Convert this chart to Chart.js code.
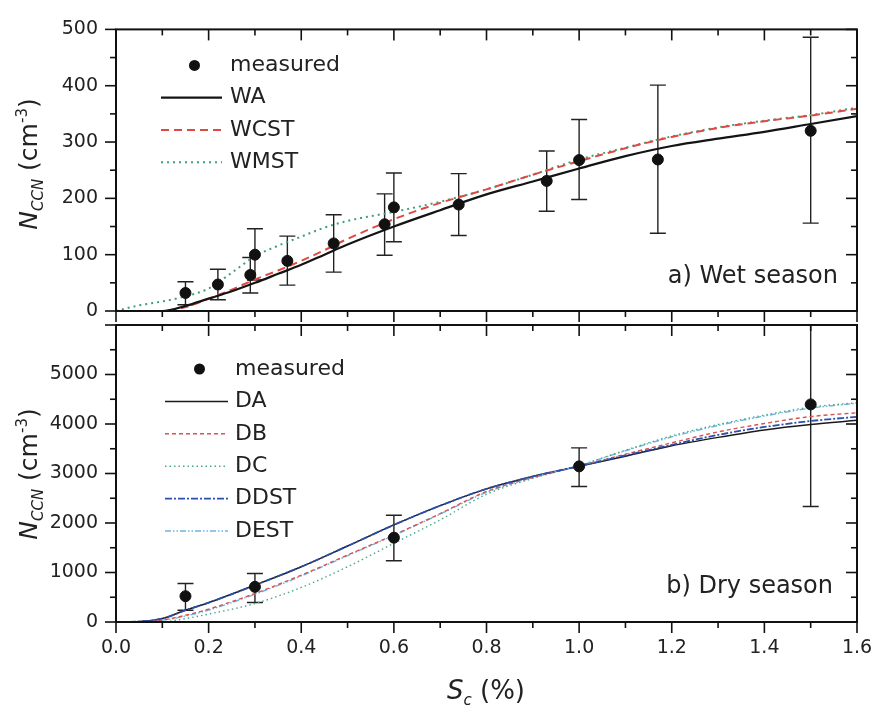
<!DOCTYPE html>
<html lang="en">
<head>
<meta charset="UTF-8" />
<title>CCN spectra</title>
<script src="https://cdn.jsdelivr.net/npm/chart.js@4"></script>
<style>
  body { margin: 0; background: #fff; }
  #wrap {
    position: relative; width: 877px; height: 716px; background: #fff;
    font-family: "DejaVu Sans", sans-serif; color: #222;
  }
  canvas { position: absolute; left: 0; top: 0; }
  .ytitle {
    position: absolute; white-space: nowrap; font-size: 25px;
    transform: translate(-50%, -50%) rotate(-90deg);
  }
  .xtitle {
    position: absolute; white-space: nowrap; font-size: 26px;
    transform: translate(-50%, -50%);
  }
  .ytitle i, .xtitle i { font-style: italic; }
  sub, sup { font-size: 15px; line-height: 0; }
  .panel {
    position: absolute; white-space: nowrap; font-size: 24px;
    transform: translate(-100%, -50%);
  }
</style>
</head>
<body>
<div id="wrap">
  <canvas id="wet" width="877" height="716"></canvas>
  <canvas id="dry" width="877" height="716"></canvas>
  <div class="ytitle" style="left:28px; top:164px"><i>N</i><sub><i>CCN</i></sub> (cm<sup>-3</sup>)</div>
  <div class="ytitle" style="left:28px; top:474px"><i>N</i><sub><i>CCN</i></sub> (cm<sup>-3</sup>)</div>
  <div class="xtitle" style="left:486px; top:690px"><i>S</i><sub><i>c</i></sub> (%)</div>
  <div class="panel" style="left:838px; top:275px">a) Wet season</div>
  <div class="panel" style="left:833px; top:585px">b) Dry season</div>
</div>

<script>
// ---- wet season (panel a) ----
const sWet = [0, 0.05, 0.1, 0.15, 0.2, 0.25, 0.3, 0.35, 0.4, 0.45, 0.5, 0.6, 0.7, 0.8, 0.9, 1.0, 1.1, 1.2, 1.3, 1.4, 1.5, 1.6];
const waWet   = [0, 0, 0, 9, 22, 35, 50, 66, 82, 100, 118, 150, 179, 207, 230, 253, 275, 293, 306, 318, 332, 346];
const wcstWet = [0, 0, 0, 7, 22, 38, 56, 72, 89, 108, 128, 163, 192, 216, 242, 266, 289, 309, 325, 337, 347, 359];
const wmstWet = [0, 10, 17, 26, 40, 68, 97, 116, 132, 148, 160, 176, 194, 216, 242, 269, 290, 310, 326, 338, 348, 361];

const sWetMeas  = [0.15, 0.22, 0.29, 0.30, 0.37, 0.47, 0.58, 0.60, 0.74, 0.93, 1.00, 1.17, 1.50];
const nWetMeas  = [32, 47, 64, 100, 89, 120, 154, 184, 189, 231, 268, 269, 320];
const nWetLow   = [11, 20, 32, 55, 46, 69, 99, 123, 134, 177, 198, 138, 156];
const nWetHigh  = [52, 74, 95, 146, 133, 171, 208, 245, 244, 284, 340, 401, 486];

// ---- dry season (panel b) ----
const sDry = [0, 0.05, 0.1, 0.15, 0.2, 0.3, 0.4, 0.5, 0.6, 0.7, 0.8, 0.9, 1.0, 1.1, 1.2, 1.3, 1.4, 1.5, 1.6];
const daDry   = [0, 8, 69, 237, 390, 744, 1116, 1535, 1961, 2350, 2690, 2940, 3144, 3350, 3560, 3730, 3880, 3990, 4075];
const dbDry   = [0, 2, 40, 136, 260, 576, 947, 1353, 1759, 2190, 2637, 2920, 3144, 3390, 3620, 3840, 4010, 4150, 4227];
const dcDry   = [0, 0, 5, 69, 160, 373, 698, 1116, 1590, 2063, 2580, 2900, 3160, 3470, 3760, 3990, 4180, 4340, 4430];
const ddstDry = [0, 8, 69, 237, 390, 744, 1116, 1535, 1961, 2350, 2690, 2940, 3150, 3365, 3580, 3780, 3940, 4060, 4146];
const destDry = [0, 2, 35, 120, 240, 560, 930, 1340, 1750, 2180, 2620, 2920, 3160, 3460, 3740, 3970, 4160, 4320, 4420];

const sDryMeas = [0.15, 0.30, 0.60, 1.00, 1.50];
const nDryMeas = [521, 710, 1704, 3144, 4396];
const nDryLow  = [237, 393, 1237, 2738, 2333];
const nDryHigh = [779, 981, 2158, 3517, 6459];

const xTicks = [0, 0.2, 0.4, 0.6, 0.8, 1.0, 1.2, 1.4, 1.6];

function pts(xs, ys) {
  return xs.map((x, i) => ({ x: x, y: ys[i] }));
}

function curve(label, xs, ys, color, width, dash, order) {
  return {
    label: label,
    data: pts(xs, ys),
    showLine: true,
    borderColor: color,
    backgroundColor: color,
    borderWidth: width,
    borderDash: dash,
    pointRadius: 0,
    cubicInterpolationMode: "monotone",
    order: order === undefined ? 2 : order,
  };
}

function measured(xs, ys, lo, hi) {
  return {
    label: "measured",
    data: pts(xs, ys),
    showLine: false,
    pointRadius: 5.5,
    pointBackgroundColor: "#111",
    pointBorderColor: "#111",
    borderColor: "#111",
    order: 0,
    errLow: lo,
    errHigh: hi,
  };
}

// frame round the plot area plus major/minor ticks on all four sides
const frameTicks = {
  id: "frameTicks",
  afterDraw(chart, args, opts) {
    const { ctx, chartArea: a } = chart;
    const x = chart.scales.x, y = chart.scales.y;
    function seg(x1, y1, x2, y2) {
      ctx.beginPath(); ctx.moveTo(x1, y1); ctx.lineTo(x2, y2); ctx.stroke();
    }
    ctx.save();
    ctx.strokeStyle = "#111";
    ctx.lineWidth = 1.6;
    for (let i = 0; i * opts.xMinor <= x.max + 1e-9; i++) {
      const px = x.getPixelForValue(i * opts.xMinor);
      const len = i % 2 === 0 ? 11 : 6;
      seg(px, a.bottom, px, a.bottom + len);
      seg(px, a.top, px, a.top + len);
    }
    for (let i = 0; i * opts.yMinor <= y.max + 1e-9; i++) {
      const py = y.getPixelForValue(i * opts.yMinor);
      const len = i % 2 === 0 ? 11 : 6;
      seg(a.left - len, py, a.left, py);
      seg(a.right - len, py, a.right, py);
    }
    ctx.lineWidth = 2;
    ctx.strokeRect(a.left, a.top, a.right - a.left, a.bottom - a.top);
    ctx.restore();
  },
};

const errorBars = {
  id: "errorBars",
  beforeDatasetsDraw(chart) {
    const { ctx, chartArea: a } = chart;
    const x = chart.scales.x, y = chart.scales.y;
    ctx.save();
    ctx.beginPath();
    ctx.rect(a.left, a.top, a.right - a.left, a.bottom - a.top);
    ctx.clip();
    ctx.strokeStyle = "#222";
    ctx.lineWidth = 1.4;
    chart.data.datasets.forEach((ds) => {
      if (!ds.errLow) return;
      ds.data.forEach((p, i) => {
        const px = x.getPixelForValue(p.x);
        const top = y.getPixelForValue(ds.errHigh[i]);
        const bot = y.getPixelForValue(ds.errLow[i]);
        ctx.beginPath();
        ctx.moveTo(px, top); ctx.lineTo(px, bot);
        ctx.moveTo(px - 8, top); ctx.lineTo(px + 8, top);
        ctx.moveTo(px - 8, bot); ctx.lineTo(px + 8, bot);
        ctx.stroke();
      });
    });
    ctx.restore();
  },
};

// in-plot legend, drawn from the datasets' own styles
const inLegend = {
  id: "inLegend",
  afterDraw(chart, args, opts) {
    const { ctx, chartArea: a } = chart;
    ctx.save();
    ctx.font = "22px 'DejaVu Sans'";
    ctx.textBaseline = "middle";
    ctx.fillStyle = "#222";
    chart.data.datasets.forEach((ds, i) => {
      const yy = a.top + opts.y0 + i * opts.dy;
      if (ds.showLine) {
        ctx.strokeStyle = ds.borderColor;
        ctx.lineWidth = ds.borderWidth;
        ctx.setLineDash(ds.borderDash || []);
        ctx.beginPath();
        ctx.moveTo(a.left + opts.x1, yy);
        ctx.lineTo(a.left + opts.x2, yy);
        ctx.stroke();
        ctx.setLineDash([]);
      } else {
        ctx.beginPath();
        ctx.arc(a.left + (opts.x1 + opts.x2) / 2 + 3, yy, 5.5, 0, Math.PI * 2);
        ctx.fillStyle = "#111";
        ctx.fill();
        ctx.fillStyle = "#222";
      }
      ctx.fillText(ds.label, a.left + opts.tx, yy);
    });
    ctx.restore();
  },
};

const tickFont = { family: "DejaVu Sans", size: 19 };

function makeChart(id, datasets, yMax, yStep, yMinor, showX, pad, legendOpts) {
  return new Chart(document.getElementById(id), {
    type: "scatter",
    data: { datasets: datasets },
    plugins: [errorBars, frameTicks, inLegend],
    options: {
      responsive: false,
      animation: false,
      devicePixelRatio: 1,
      layout: { padding: pad },
      plugins: {
        legend: { display: false },
        tooltip: { enabled: false },
        frameTicks: { xMinor: 0.1, yMinor: yMinor },
        inLegend: legendOpts,
      },
      scales: {
        x: {
          type: "linear",
          min: 0,
          max: 1.6,
          display: showX,
          afterBuildTicks: (s) => { s.ticks = xTicks.map((v) => ({ value: v })); },
          afterFit: (s) => {
            s.height = showX ? 94 : 0;
            s.paddingLeft = 0;
            s.paddingRight = 0;
          },
          grid: { display: false, drawTicks: false },
          border: { display: false },
          ticks: {
            font: tickFont, color: "#222", padding: 15,
            maxRotation: 0, autoSkip: false,
            callback: (v) => Number(v).toFixed(1),
          },
        },
        y: {
          min: 0,
          max: yMax,
          afterFit: (s) => { s.width = 116; },
          grid: { display: false, drawTicks: false },
          border: { display: false },
          ticks: {
            stepSize: yStep, font: tickFont, color: "#222", padding: 18,
            callback: (v) => (v <= yMax - (yMax === 6000 ? 1000 : 0) ? v : ""),
          },
        },
      },
    },
  });
}

makeChart(
  "wet",
  [
    measured(sWetMeas, nWetMeas, nWetLow, nWetHigh),
    curve("WA", sWet, waWet, "#141414", 2.2, []),
    curve("WCST", sWet, wcstWet, "#dd4a44", 2, [8, 5]),
    curve("WMST", sWet, wmstWet, "#3f9f77", 2, [2, 4]),
  ],
  500, 100, 50, false,
  { left: 0, right: 20, top: 17, bottom: 716 - 311 },
  { y0: 36, dy: 32.3, x1: 45, x2: 106, tx: 114 }
);

makeChart(
  "dry",
  [
    measured(sDryMeas, nDryMeas, nDryLow, nDryHigh),
    curve("DA", sDry, daDry, "#1a1a1a", 1.5, [], 3),
    curve("DB", sDry, dbDry, "#d9534f", 1.4, [4, 3]),
    curve("DC", sDry, dcDry, "#4aa88a", 1.4, [1.5, 3]),
    curve("DDST", sDry, ddstDry, "#2b4fae", 1.8, [7, 2, 2, 2], 1),
    curve("DEST", sDry, destDry, "#6bb5e0", 1.4, [6, 2, 1.5, 2, 1.5, 2]),
  ],
  6000, 1000, 500, true,
  { left: 0, right: 20, top: 325, bottom: 0 },
  { y0: 44, dy: 32.4, x1: 49, x2: 112, tx: 119 }
);
</script>
</body>
</html>
